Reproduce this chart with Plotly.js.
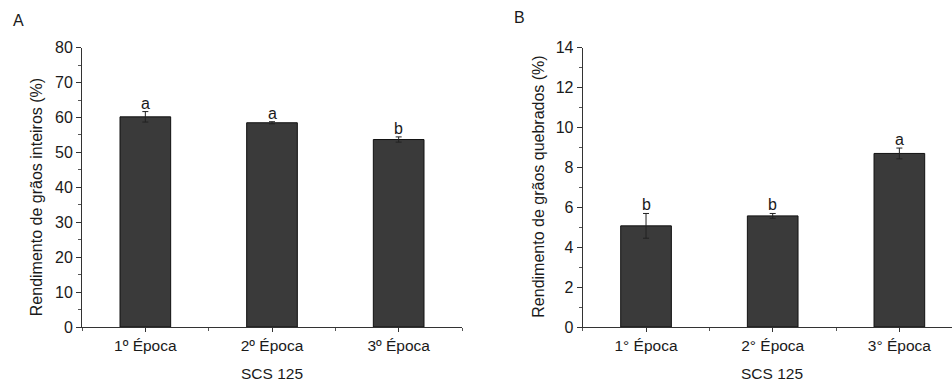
<!DOCTYPE html>
<html><head><meta charset="utf-8">
<script src="https://cdn.plot.ly/plotly-3.0.1.min.js"></script>
<style>html,body{margin:0;padding:0;background:#fff}#chart{width:952px;height:382px}</style>
</head><body><div id="chart"></div>
<script>
// Data
const catsA = ["1º Época", "2º Época", "3º Época"];
const catsB = ["1° Época", "2° Época", "3° Época"];
const valuesA = [60.2, 58.5, 53.7];
const errorsA = [1.5, 0.3, 0.75];
const lettersA = ["a", "a", "b"];
const valuesB = [5.07, 5.57, 8.7];
const errorsB = [0.62, 0.12, 0.27];
const lettersB = ["b", "b", "a"];
const yTitleA = "Rendimento de grãos inteiros (%)";
const yTitleB = "Rendimento de grãos quebrados (%)";
const xTitle = "SCS 125";

const W = 952, H = 382;
const FONT = "Liberation Sans, Arial, sans-serif";
const TXT = "#1a1a1a";
const BAR = "#3a3a3a";
const idxA = catsA.map((_, i) => i);
const idxB = catsB.map((_, i) => i);

function barTrace(x, y, err, xa, ya) {
  return {
    type: "bar", x: x, y: y, xaxis: xa, yaxis: ya, width: 0.4,
    marker: {color: BAR, line: {color: "#111", width: 1}},
    error_y: {type: "data", array: err, visible: true, color: "#222", thickness: 1, width: 3},
    hoverinfo: "skip", showlegend: false
  };
}

const yDom = [1 - 327 / H, 1 - 47.7 / H];
function xAxis(dom, range, ticktext) {
  return {
    domain: dom, range: range, type: "linear",
    tickmode: "array", tickvals: ticktext.map((_, i) => i), ticktext: ticktext,
    ticks: "outside", ticklen: 4, tickwidth: 1, tickcolor: "#333",
    minor: {ticks: "outside", tick0: 0.5, dtick: 1, ticklen: 3, tickwidth: 1, tickcolor: "#555"},
    showline: true, linecolor: "#333", linewidth: 1,
    showgrid: false, zeroline: false, fixedrange: true,
    tickfont: {family: FONT, size: 15.5, color: TXT}
  };
}
function yAxis(dom, range, dtick, anchor) {
  return {
    domain: dom, range: range, anchor: anchor,
    tickmode: "linear", tick0: 0, dtick: dtick,
    ticks: "outside", ticklen: 5, tickwidth: 1, tickcolor: "#333",
    minor: {ticks: "outside", dtick: dtick / 2, ticklen: 3, tickwidth: 1, tickcolor: "#555"},
    showline: true, linecolor: "#333", linewidth: 1,
    showgrid: false, zeroline: false, fixedrange: true,
    tickfont: {family: FONT, size: 16, color: TXT}
  };
}

const data = [
  barTrace(idxA, valuesA, errorsA, "x", "y"),
  barTrace(idxB, valuesB, errorsB, "x2", "y2")
];

const annotations = [];
function letters(idx, vals, errs, lets, xref, yref) {
  idx.forEach((i) => {
    annotations.push({
      x: i, y: vals[i] + errs[i], xref: xref, yref: yref, text: lets[i],
      showarrow: false, yanchor: "bottom", yshift: -2,
      font: {family: FONT, size: 16, color: TXT}
    });
  });
}
letters(idxA, valuesA, errorsA, lettersA, "x", "y");
letters(idxB, valuesB, errorsB, lettersB, "x2", "y2");

// panel letters
annotations.push({x: 10.5 / W, y: 1 - 20.5 / H, xref: "paper", yref: "paper", xanchor: "left", yanchor: "middle",
  text: "A", showarrow: false, font: {family: FONT, size: 16, color: TXT}});
annotations.push({x: 512 / W, y: 1 - 18 / H, xref: "paper", yref: "paper", xanchor: "left", yanchor: "middle",
  text: "B", showarrow: false, font: {family: FONT, size: 16, color: TXT}});
// axis titles
annotations.push({x: 36.7 / W, y: 1 - 197.5 / H, xref: "paper", yref: "paper", xanchor: "center", yanchor: "middle",
  textangle: -90, text: yTitleA, showarrow: false, font: {family: FONT, size: 16, color: TXT}});
annotations.push({x: 537.7 / W, y: 1 - 187 / H, xref: "paper", yref: "paper", xanchor: "center", yanchor: "middle",
  textangle: -90, text: yTitleB, showarrow: false, font: {family: FONT, size: 16, color: TXT}});
annotations.push({x: 271.7 / W, y: 1 - 373.5 / H, xref: "paper", yref: "paper", xanchor: "center", yanchor: "middle",
  text: xTitle, showarrow: false, font: {family: FONT, size: 15.5, color: TXT}});
annotations.push({x: 772 / W, y: 1 - 373.5 / H, xref: "paper", yref: "paper", xanchor: "center", yanchor: "middle",
  text: xTitle, showarrow: false, font: {family: FONT, size: 15.5, color: TXT}});

const layout = {
  width: W, height: H,
  margin: {l: 0, r: 0, t: 0, b: 0, pad: 0},
  paper_bgcolor: "#fff", plot_bgcolor: "rgba(0,0,0,0)",
  showlegend: false, bargap: 0,
  xaxis: Object.assign(xAxis([82 / W, 462 / W], [-0.5, 2.5], catsA), {anchor: "y"}),
  yaxis: yAxis(yDom, [0, 80], 10, "x"),
  xaxis2: Object.assign(xAxis([582.7 / W, 1], [-0.5, 2.5 - 10.7 / 126.67], catsB), {anchor: "y2"}),
  yaxis2: yAxis(yDom, [0, 14], 2, "x2"),
  annotations: annotations
};

Plotly.newPlot("chart", data, layout, {displayModeBar: false, staticPlot: true});
</script>
</body></html>
